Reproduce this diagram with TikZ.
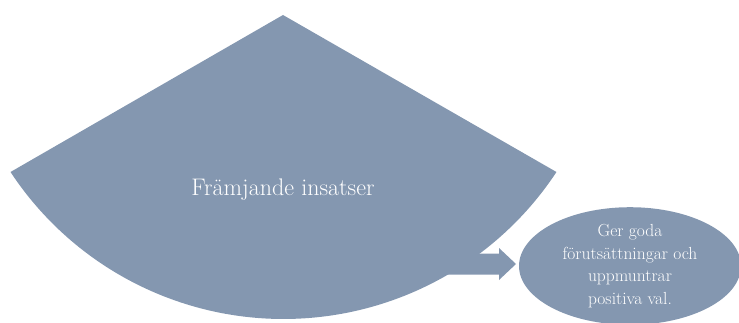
\documentclass[tikz,border=0pt]{standalone}
\usepackage{fontspec}
\usetikzlibrary{shapes.geometric}
\definecolor{slate}{HTML}{8497B0}
\tikzset{
  shapefill/.style={fill=slate, draw=none},
  maintext/.style={text=white, font=\fontsize{24}{28}\selectfont},
  resultbox/.style={ellipse, fill=slate, draw=none, text=white, align=center,
    minimum width=222pt, minimum height=112pt, inner sep=0pt,
    font=\fontsize{17.5}{22.5}\selectfont}
}
\begin{document}
\begin{tikzpicture}[x=1pt,y=1pt]
\useasboundingbox (0,0) rectangle (739,322);
% block arrow
\fill[shapefill] (440,47.5) -- (499,47.5) -- (499,42) -- (516,58) -- (499,74) -- (499,68.5) -- (440,68.5) -- cycle;
% sector-like shape
\fill[shapefill] (283,307) -- (10.5,150) arc[start angle=-146.6, end angle=-33.4, radius=327] -- cycle;
\node[maintext] (main) at (283,132) {Främjande insatser};
\node[resultbox] (res) at (630,56) {Ger goda\\förutsättningar och\\uppmuntrar\\positiva val.};
\end{tikzpicture}
\end{document}
